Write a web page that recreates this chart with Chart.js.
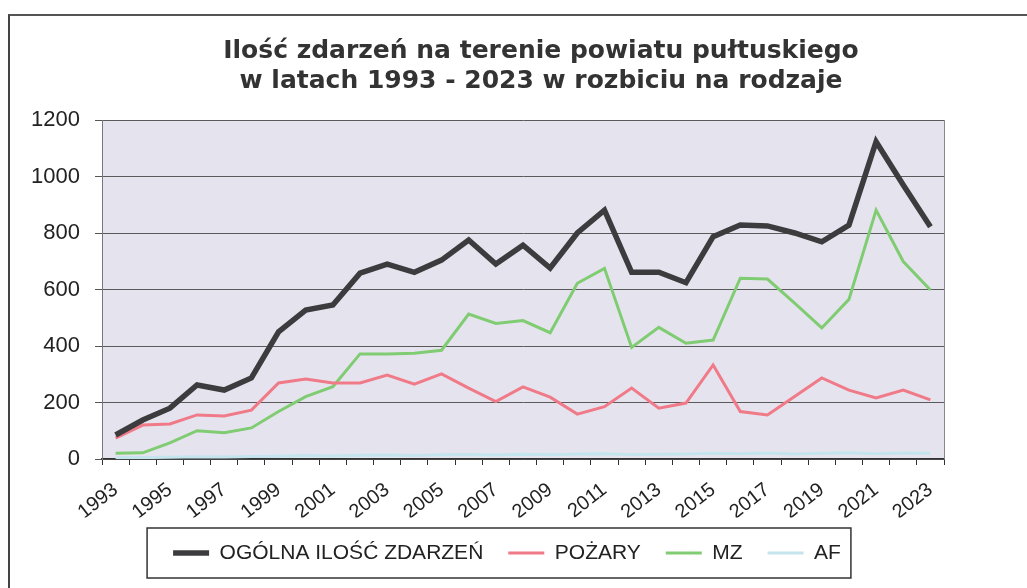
<!DOCTYPE html>
<html>
<head>
<meta charset="utf-8">
<script src="https://cdn.jsdelivr.net/npm/chart.js@4/dist/chart.umd.min.js"></script>
<style>
  body { margin: 0; background: #fff; }
  #wrap { position: relative; width: 1027px; height: 588px; }
  #frame { position: absolute; left: 8px; top: 14px; right: 0; bottom: 0;
           border-left: 2px solid #444; border-top: 2px solid #555; }
  #myChart { position: absolute; left: 0; top: 0; }
</style>
</head>
<body>
<div id="wrap">
  <div id="frame"></div>
  <canvas id="myChart" width="1027" height="588"></canvas>
</div>
<script>
const years = ['1993','1994','1995','1996','1997','1998','1999','2000','2001','2002','2003','2004','2005','2006','2007','2008','2009','2010','2011','2012','2013','2014','2015','2016','2017','2018','2019','2020','2021','2022','2023'];

// ogolna ilosc zdarzen
const total = [85,138,180,262,244,287,450,527,545,658,690,661,704,775,690,757,676,800,881,661,661,624,787,828,825,800,769,828,1123,970,822];
// pozary
const fires = [74,120,124,156,152,173,269,283,269,269,297,265,301,251,203,255,219,159,185,251,180,198,333,168,156,221,287,244,216,244,209];
// miejscowe zagrozenia
const mz = [20,22,57,100,93,110,168,221,256,372,372,374,385,513,480,490,447,622,675,395,466,410,421,640,637,552,464,565,881,699,598];
// alarmy falszywe
const af = [4,5,6,8,7,9,10,12,11,13,14,12,15,16,14,17,15,18,19,16,17,18,20,19,21,18,20,22,19,21,20];

const yTicks = [0,200,400,600,800,1000,1200];

const FONT = "'Liberation Sans', Arial, sans-serif";

// plot background, right edge of plot, legend frame
const decor = {
  id: 'decor',
  afterLayout(chart) {
    // title centred a bit right, legend a bit left, as in the original
    chart.titleBlock.left += 55;
    chart.legend.left -= 16;
    chart.legend.right -= 16;
  },
  beforeDraw(chart) {
    const {ctx, chartArea: a} = chart;
    ctx.save();
    ctx.fillStyle = '#e5e4ee';
    ctx.fillRect(a.left, a.top, a.right - a.left, a.bottom - a.top);
    ctx.restore();
  },
  beforeDatasetsDraw(chart) {
    const {ctx, chartArea: a} = chart;
    ctx.save();
    ctx.strokeStyle = '#888';
    ctx.lineWidth = 1;
    ctx.beginPath();
    ctx.moveTo(a.right + 0.5, a.top);
    ctx.lineTo(a.right + 0.5, a.bottom);
    ctx.stroke();
    ctx.restore();
  },
  afterDraw(chart) {
    const lg = chart.legend;
    if (!lg || !lg.legendHitBoxes.length) return;
    const hb = lg.legendHitBoxes;
    const left = hb[0].left - 26;
    const right = hb[hb.length - 1].left + hb[hb.length - 1].width + 10;
    const midY = hb[0].top + hb[0].height / 2;
    const ctx = chart.ctx;
    ctx.save();
    ctx.strokeStyle = '#333';
    ctx.lineWidth = 1.5;
    ctx.strokeRect(left, midY - 25, right - left, 50);
    ctx.restore();
  }
};

var ctx = document.getElementById('myChart');
var myChart = new Chart(ctx, {
  type: 'line',
  data: {
    labels: years,
    datasets: [{
      label: 'OGÓLNA ILOŚĆ ZDARZEŃ',
      data: total,
      borderColor: '#3c3c3e',
      backgroundColor: '#3c3c3e',
      borderWidth: 5.5
    }, {
      label: 'POŻARY',
      data: fires,
      borderColor: '#f07a88',
      backgroundColor: '#f07a88',
      borderWidth: 3
    }, {
      label: 'MZ',
      data: mz,
      borderColor: '#80cc72',
      backgroundColor: '#80cc72',
      borderWidth: 3
    }, {
      label: 'AF',
      data: af,
      borderColor: '#c4e4ee',
      backgroundColor: '#c4e4ee',
      borderWidth: 3
    }]
  },
  options: {
    responsive: false,
    animation: false,
    layout: { padding: { left: 0, right: 0, top: 0, bottom: 14.5 } },
    elements: {
      point: { radius: 0 },
      line: { tension: 0, fill: false }
    },
    plugins: {
      title: {
        display: true,
        text: ['Ilość zdarzeń na terenie powiatu pułtuskiego', 'w latach 1993 - 2023 w rozbiciu na rodzaje'],
        color: '#333',
        font: { family: "'DejaVu Sans', sans-serif", size: 25, weight: 'bold', lineHeight: 1.2 },
        padding: { top: 36, bottom: 24 }
      },
      legend: {
        position: 'bottom',
        fullSize: false,
        labels: {
          usePointStyle: true,
          pointStyle: 'line',
          pointStyleWidth: 36,
          boxWidth: 36,
          padding: 25,
          color: '#222',
          font: { family: FONT, size: 21 }
        }
      },
      tooltip: { enabled: false }
    },
    scales: {
      x: {
        offset: true,
        afterFit(scale) { scale.height = 58.5; },
        grid: {
          offset: true,
          drawOnChartArea: false,
          drawTicks: true,
          tickLength: 6,
          tickColor: '#333'
        },
        border: { color: '#333', width: 1.5 },
        ticks: {
          autoSkip: false,
          minRotation: 38,
          maxRotation: 38,
          padding: 13,
          color: '#222',
          font: { family: FONT, size: 20 },
          callback: function (val, i) { return i % 2 === 0 ? years[i] : ''; }
        }
      },
      y: {
        min: 0,
        max: 1200,
        afterFit(scale) { scale.width = 102; },
        afterBuildTicks(scale) { scale.ticks = yTicks.map(v => ({ value: v })); },
        grid: {
          color: '#5a5a5a',
          lineWidth: 1,
          tickLength: 7,
          tickColor: '#555'
        },
        border: { color: '#777', width: 1 },
        ticks: {
          padding: 15,
          color: '#222',
          font: { family: FONT, size: 22 },
          callback: v => String(v)
        }
      },
      yRight: {
        position: 'right',
        min: 0,
        max: 1200,
        afterFit(scale) { scale.width = 83; },
        grid: { display: false },
        border: { display: false },
        ticks: { display: false }
      }
    }
  },
  plugins: [decor]
});
</script>
</body>
</html>
